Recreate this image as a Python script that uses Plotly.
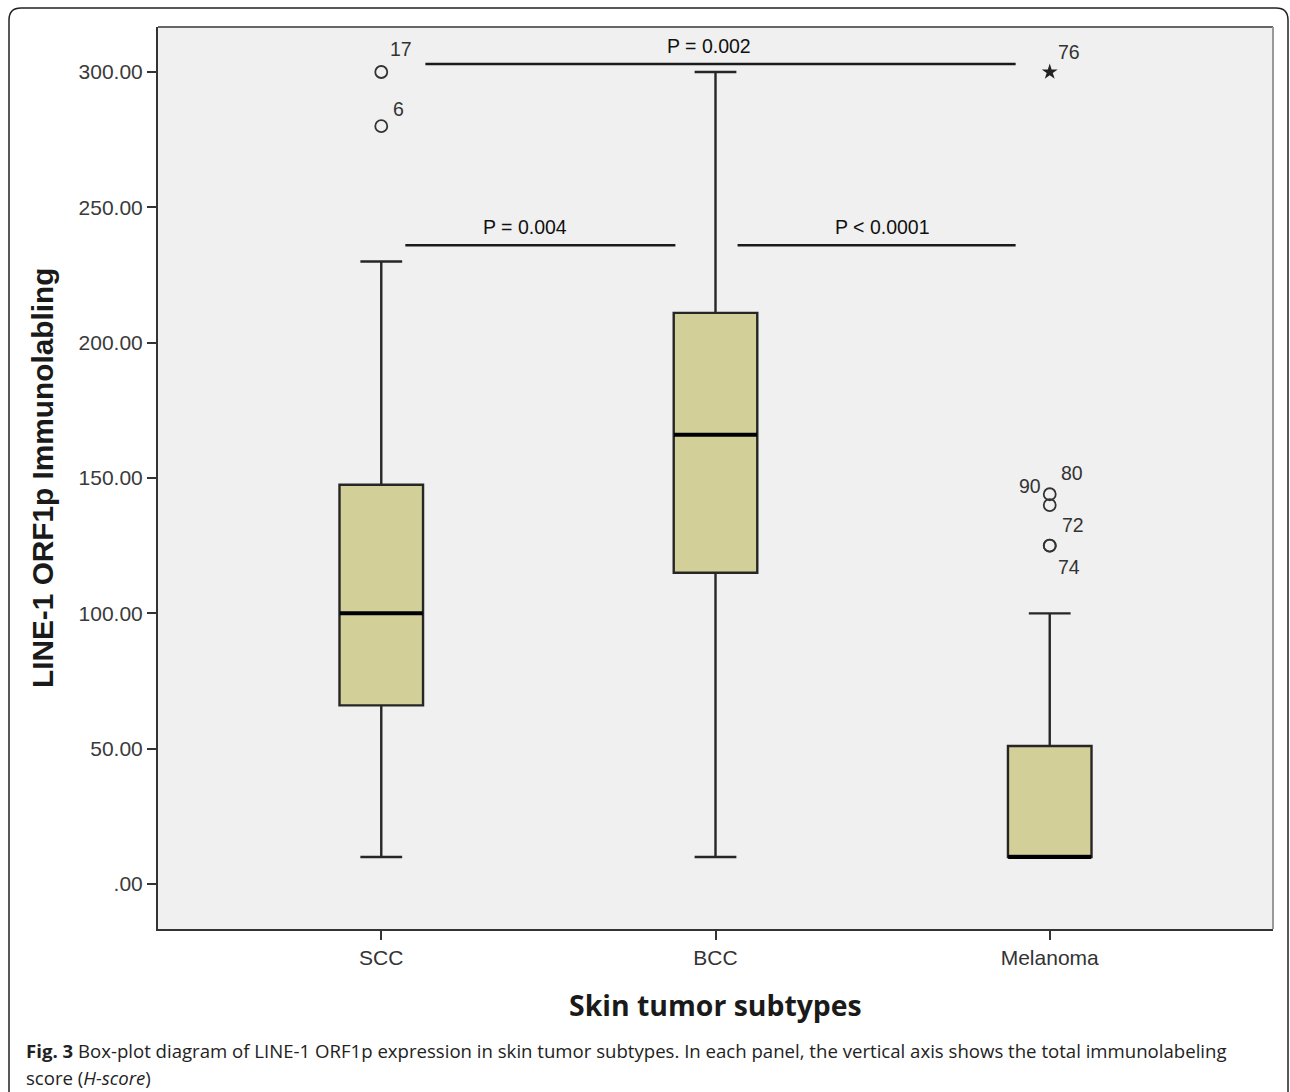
import plotly.graph_objects as go

# ---------------- data ----------------
categories = ["SCC", "BCC", "Melanoma"]
q1 = [66, 115, 10]
median = [100, 166, 10]
q3 = [147.5, 211, 51]
lower_whisker = [10, 10, 10]
upper_whisker = [230, 300, 100]

# outliers
outlier_cat = ["SCC", "SCC", "Melanoma", "Melanoma", "Melanoma", "Melanoma"]
outlier_val = [300, 280, 144, 140, 125, 125]
outlier_lab = ["17", "6", "80", "90", "72", "74"]
extreme_cat = ["Melanoma"]
extreme_val = [300]
extreme_lab = ["76"]

# comparisons
cmp_a = [0, 0, 1]
cmp_b = [2, 1, 2]
cmp_level = [303, 236, 236]
cmp_text = ["P = 0.002", "P = 0.004", "P < 0.0001"]

y_ticks = [0, 50, 100, 150, 200, 250, 300]
y_ticktext = [".00", "50.00", "100.00", "150.00", "200.00", "250.00", "300.00"]

# ---------------- layout / style constants ----------------
W, H = 1290, 1092
L, R, T, B = 158, 1273, 27, 929
BOXW = 0.25
cmp_inset_start = [0.132, 0.072, 0.066]
cmp_inset_end = [0.102, 0.12, 0.102]
cmp_text_shift = [-12, -15, 6]
lab_offsets = {"17": (20, 23), "6": (17, 17), "80": (22, 21), "90": (-20, 19),
               "72": (23, 21), "74": (19, -21), "76": (19, 20)}


def px(xp):
    return (xp - L) / (R - L)


def py(yp):
    return (B - yp) / (B - T)


fig = go.Figure()

fig.add_trace(go.Box(
    x=categories, q1=q1, median=median, q3=q3,
    lowerfence=lower_whisker, upperfence=upper_whisker,
    width=BOXW, whiskerwidth=0.5,
    fillcolor="#d3cf98", line=dict(color="#262626", width=2.4),
    boxpoints=False, showlegend=False, hoverinfo="skip",
))

# thick median lines (line-ew half-length is 1.4*size/2)
fig.add_trace(go.Scatter(
    x=categories, y=median, mode="markers",
    marker=dict(symbol="line-ew", size=83 / 1.4, line=dict(color="#000000", width=4)),
    showlegend=False, hoverinfo="skip",
))

# outliers
fig.add_trace(go.Scatter(
    x=outlier_cat, y=outlier_val, mode="markers",
    marker=dict(symbol="circle-open", size=12, color="#333333", line=dict(width=1.8)),
    showlegend=False, hoverinfo="skip",
))
fig.add_trace(go.Scatter(
    x=extreme_cat, y=extreme_val, mode="markers",
    marker=dict(symbol="star", size=12, color="#222222", line=dict(width=0)),
    showlegend=False, hoverinfo="skip",
))

annotations = []
lab_font = dict(family="Liberation Sans, Arial", size=19.5, color="#333333")
for c, v, lab in zip(outlier_cat + extreme_cat, outlier_val + extreme_val, outlier_lab + extreme_lab):
    dx, dy = lab_offsets[lab]
    annotations.append(dict(x=c, y=v, xref="x", yref="y", text=lab, showarrow=False,
                            xshift=dx, yshift=dy, font=lab_font))

shapes = []
for a, b, lev, txt, s0, s1, ts in zip(cmp_a, cmp_b, cmp_level, cmp_text,
                                      cmp_inset_start, cmp_inset_end, cmp_text_shift):
    x0, x1 = a + s0, b - s1
    shapes.append(dict(type="line", xref="x", yref="y", x0=x0, x1=x1, y0=lev, y1=lev,
                       line=dict(color="#1a1a1a", width=2.5)))
    annotations.append(dict(x=(x0 + x1) / 2, y=lev, xref="x", yref="y", text=txt,
                            showarrow=False, yshift=18, xshift=ts,
                            font=dict(family="Liberation Sans, Arial", size=19.5, color="#111111")))

# top/right plot border (grey)
shapes.append(dict(type="line", xref="paper", yref="paper", x0=0, x1=1, y0=1, y1=1,
                   line=dict(color="#666666", width=2)))
shapes.append(dict(type="line", xref="paper", yref="paper", x0=1, x1=1, y0=0, y1=1,
                   line=dict(color="#999999", width=2)))

# outer rounded frame
frame = (f"M {px(9)},{py(1100)} L {px(9)},{py(20)} Q {px(9)},{py(8)} {px(21)},{py(8)} "
         f"L {px(1276)},{py(8)} Q {px(1288)},{py(8)} {px(1288)},{py(20)} L {px(1288)},{py(1100)}")
shapes.append(dict(type="path", xref="paper", yref="paper", path=frame,
                   line=dict(color="#222222", width=1.5), layer="below"))

annotations.append(dict(x=px(715), y=py(1005), xref="paper", yref="paper",
                        text="<b>Skin tumor subtypes</b>", showarrow=False,
                        xanchor="center", yanchor="middle",
                        font=dict(family="Open Sans", size=28.4, color="#1a1a1a")))
annotations.append(dict(x=px(42), y=py(478), xref="paper", yref="paper",
                        text="<b>LINE-1 ORF1p Immunolabling</b>", showarrow=False,
                        textangle=-90, xanchor="center", yanchor="middle",
                        font=dict(family="Liberation Sans, Arial", size=29.8, color="#1a1a1a")))
annotations.append(dict(x=px(24), y=py(1050), xref="paper", yref="paper",
                        text="<b>Fig. 3</b> Box-plot diagram of LINE-1 ORF1p expression in skin tumor subtypes. "
                             "In each panel, the vertical axis shows the total immunolabeling",
                        showarrow=False, xanchor="left", yanchor="middle",
                        font=dict(family="Open Sans", size=18.6, color="#222222")))
annotations.append(dict(x=px(24), y=py(1077), xref="paper", yref="paper",
                        text="score (<i>H-score</i>)",
                        showarrow=False, xanchor="left", yanchor="middle",
                        font=dict(family="Open Sans", size=18.6, color="#222222")))

y_lo = -(B - 884) / (812 / 300)
y_hi = 300 + (72 - T) / (812 / 300)

fig.update_layout(
    width=W, height=H,
    margin=dict(l=L, r=W - R, t=T, b=H - B, pad=0),
    paper_bgcolor="white", plot_bgcolor="#f0f0f0",
    shapes=shapes, annotations=annotations,
    xaxis=dict(type="category", range=[-0.668, 2.668], showgrid=False, zeroline=False,
               showline=True, linecolor="#333333", linewidth=2,
               ticks="outside", ticklen=9, tickwidth=2, tickcolor="#333333",
               tickfont=dict(family="Liberation Sans, Arial", size=21, color="#333333")),
    yaxis=dict(range=[y_lo, y_hi], showgrid=False, zeroline=False,
               showline=True, linecolor="#333333", linewidth=2,
               ticks="outside", ticklen=9, tickwidth=2, tickcolor="#333333",
               tickvals=y_ticks, ticktext=y_ticktext,
               tickfont=dict(family="Liberation Sans, Arial", size=21, color="#3a3a3a")),
)

fig.write_html("out.html", config={"displayModeBar": False},
               post_script="document.body.style.margin='0';document.body.style.overflow='hidden';")
